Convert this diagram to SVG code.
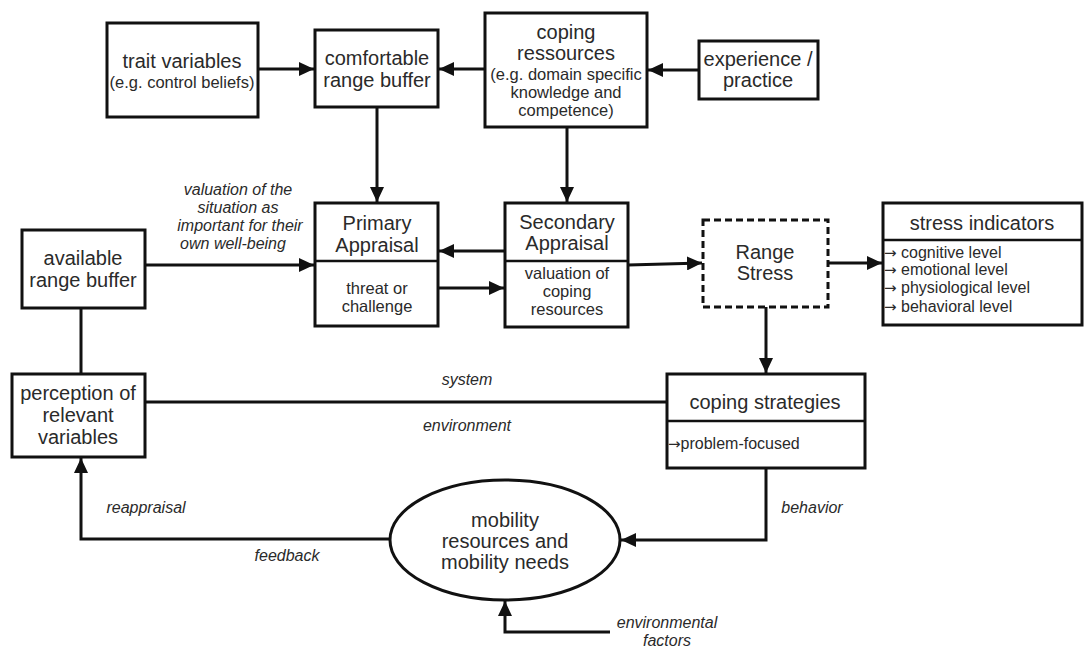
<svg xmlns="http://www.w3.org/2000/svg" width="1086" height="648" viewBox="0 0 1086 648">
<style>
.box{fill:#fff;stroke:#111;stroke-width:3}
.dash{fill:#fff;stroke:#111;stroke-width:3;stroke-dasharray:7 4}
.div{stroke:#111;stroke-width:2.5}
.t{font-family:"Liberation Sans",Arial,sans-serif;font-size:20px;fill:#2a2a2a;text-anchor:middle}
.s{font-family:"Liberation Sans",Arial,sans-serif;font-size:16.5px;fill:#2a2a2a;text-anchor:middle}
.l{font-family:"Liberation Sans",Arial,sans-serif;font-size:16px;fill:#2a2a2a}
.ar{font-family:"DejaVu Sans",sans-serif;font-size:15px;fill:#2a2a2a}
.i{font-family:"Liberation Sans",Arial,sans-serif;font-size:16px;font-style:italic;fill:#2a2a2a;text-anchor:middle}
.c{fill:none;stroke:#111;stroke-width:3}
</style>
<defs>
<marker id="ah" markerUnits="userSpaceOnUse" markerWidth="15" markerHeight="14" refX="15" refY="7" orient="auto">
<path d="M0,0 L15,7 L0,14 z" fill="#111"/>
</marker>
</defs>
<g id="connectors">
<path class="c" d="M258,69 L314,69" marker-end="url(#ah)"/>
<path class="c" d="M485,69 L439,69" marker-end="url(#ah)"/>
<path class="c" d="M699,70 L648,70" marker-end="url(#ah)"/>
<path class="c" d="M377,107 L377,202" marker-end="url(#ah)"/>
<path class="c" d="M567,127 L567,202" marker-end="url(#ah)"/>
<path class="c" d="M505,251 L439,251" marker-end="url(#ah)"/>
<path class="c" d="M438,288 L504,288" marker-end="url(#ah)"/>
<path class="c" d="M145,265 L314,265" marker-end="url(#ah)"/>
<path class="c" d="M628,265 L702,263" marker-end="url(#ah)"/>
<path class="c" d="M828,263 L882,263" marker-end="url(#ah)"/>
<path class="c" d="M766,307 L766,373" marker-end="url(#ah)"/>
<path class="c" d="M81,308 L81,374"/>
<path class="c" d="M145,402 L667,402"/>
<path class="c" d="M766,468 L766,540 L621,540" marker-end="url(#ah)"/>
<path class="c" d="M390,539 L81,539 L81,458" marker-end="url(#ah)"/>
<path class="c" d="M610,632 L505,632 L505,601" marker-end="url(#ah)"/>
<text class="i" x="238" y="195">valuation of the</text>
<text class="i" x="238" y="213">situation as</text>
<text class="i" x="240" y="231">important for their</text>
<text class="i" x="233" y="249">own well-being</text>
<text class="i" x="467" y="385">system</text>
<text class="i" x="467" y="431">environment</text>
<text class="i" x="146" y="513">reappraisal</text>
<text class="i" x="287" y="561">feedback</text>
<text class="i" x="812" y="513">behavior</text>
<text class="i" x="667" y="628">environmental</text>
<text class="i" x="667" y="646">factors</text>
</g>
<g id="trait-variables">
<rect class="box" x="107" y="23" width="151" height="94"/>
<text class="t" x="182" y="68">trait variables</text>
<text class="s" x="182" y="88">(e.g. control beliefs)</text>
</g>
<g id="comfortable-range-buffer">
<rect class="box" x="315" y="30" width="123" height="77"/>
<text class="t" x="377" y="65">comfortable</text>
<text class="t" x="377" y="87">range buffer</text>
</g>
<g id="coping-ressources">
<rect class="box" x="485" y="13" width="162" height="114"/>
<text class="t" x="566" y="39">coping</text>
<text class="t" x="566" y="60">ressources</text>
<text class="s" x="566" y="80">(e.g. domain specific</text>
<text class="s" x="566" y="98">knowledge and</text>
<text class="s" x="566" y="116">competence)</text>
</g>
<g id="experience-practice">
<rect class="box" x="699" y="41" width="119" height="58"/>
<text class="t" x="758" y="66">experience /</text>
<text class="t" x="758" y="87">practice</text>
</g>
<g id="primary-appraisal">
<rect class="box" x="315" y="203" width="123" height="123"/>
<line class="div" x1="315" y1="261" x2="438" y2="261"/>
<text class="t" x="377" y="230">Primary</text>
<text class="t" x="377" y="252">Appraisal</text>
<text class="s" x="377" y="294">threat or</text>
<text class="s" x="377" y="312">challenge</text>
</g>
<g id="secondary-appraisal">
<rect class="box" x="505" y="203" width="123" height="124"/>
<line class="div" x1="505" y1="261" x2="628" y2="261"/>
<text class="t" x="567" y="229">Secondary</text>
<text class="t" x="567" y="250">Appraisal</text>
<text class="s" x="567" y="279">valuation of</text>
<text class="s" x="567" y="297">coping</text>
<text class="s" x="567" y="315">resources</text>
</g>
<g id="available-range-buffer">
<rect class="box" x="22" y="230" width="123" height="78"/>
<text class="t" x="83" y="265">available</text>
<text class="t" x="83" y="287">range buffer</text>
</g>
<g id="range-stress">
<rect class="dash" x="703" y="220" width="125" height="87"/>
<text class="t" x="765" y="259">Range</text>
<text class="t" x="765" y="280">Stress</text>
</g>
<g id="stress-indicators">
<rect class="box" x="883" y="203" width="199" height="122"/>
<line class="div" x1="883" y1="240" x2="1082" y2="240"/>
<text class="t" x="982" y="230">stress indicators</text>
<text class="l" x="884" y="258"><tspan class="ar">→</tspan> cognitive level</text>
<text class="l" x="884" y="275"><tspan class="ar">→</tspan> emotional level</text>
<text class="l" x="884" y="293"><tspan class="ar">→</tspan> physiological level</text>
<text class="l" x="884" y="312"><tspan class="ar">→</tspan> behavioral level</text>
</g>
<g id="perception-of-relevant-variables">
<rect class="box" x="12" y="374" width="133" height="83"/>
<text class="t" x="78" y="400">perception of</text>
<text class="t" x="78" y="422">relevant</text>
<text class="t" x="78" y="444">variables</text>
</g>
<g id="coping-strategies">
<rect class="box" x="667" y="374" width="198" height="94"/>
<line class="div" x1="667" y1="421" x2="865" y2="421"/>
<text class="t" x="765" y="409">coping strategies</text>
<text class="l" x="668" y="449"><tspan class="ar">→</tspan>problem-focused</text>
</g>
<g id="mobility">
<ellipse cx="505" cy="540" rx="115" ry="60" fill="#fff" stroke="#111" stroke-width="3"/>
<text class="t" x="505" y="527">mobility</text>
<text class="t" x="505" y="548">resources and</text>
<text class="t" x="505" y="569">mobility needs</text>
</g>
</svg>
